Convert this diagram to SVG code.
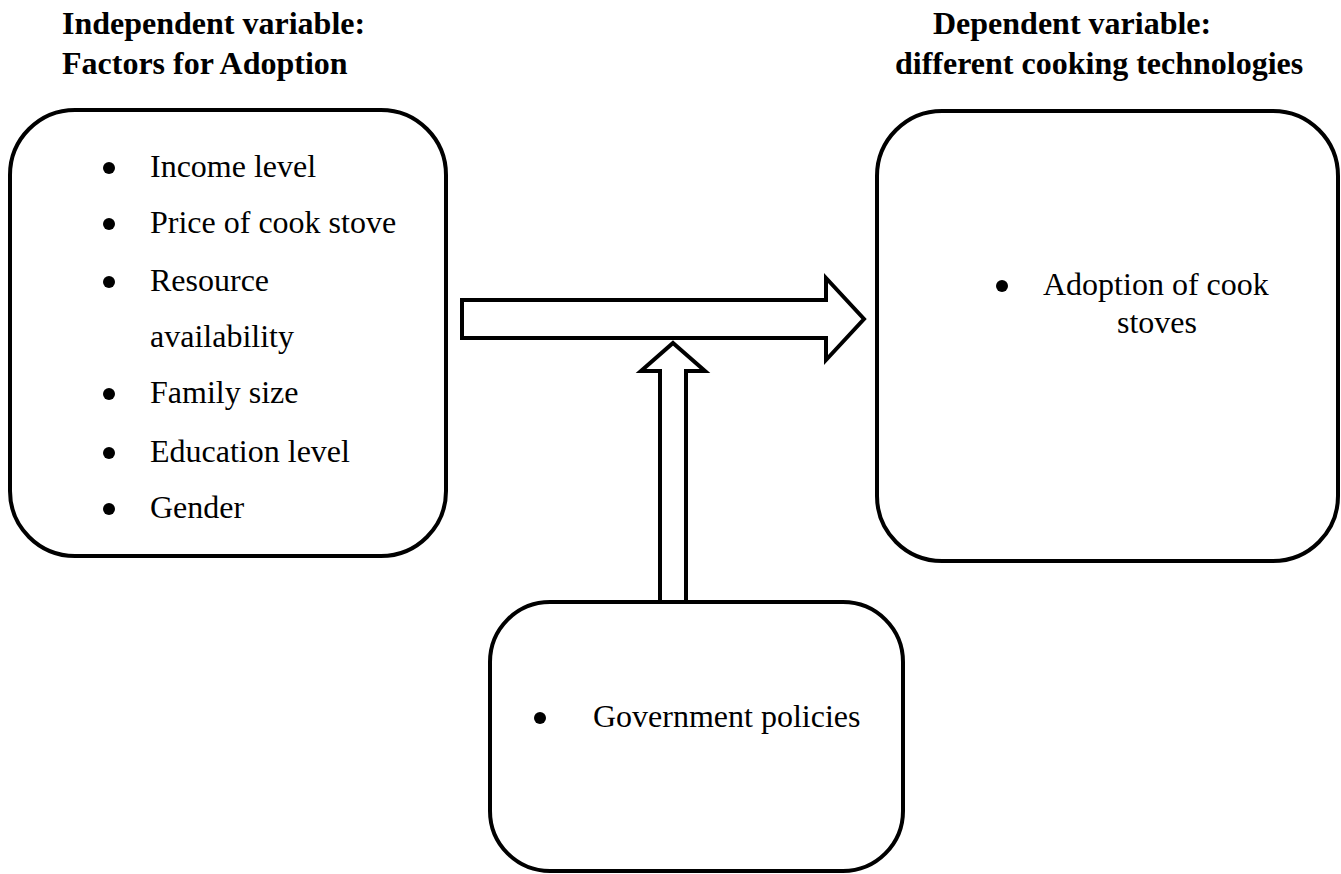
<svg xmlns="http://www.w3.org/2000/svg" width="1341" height="874" viewBox="0 0 1341 874">
<style>
.box{fill:#fff;stroke:#000;stroke-width:4}
.arrow{fill:#fff;stroke:#000;stroke-width:4;stroke-linejoin:miter}
.t{font-family:"Liberation Serif","Times New Roman",serif;font-size:32px;fill:#000}
.h{font-family:"Liberation Serif","Times New Roman",serif;font-size:32px;font-weight:bold;fill:#000}
.b{fill:#000}
</style>
<rect width="1341" height="874" fill="#fff"/>
<g id="headings">
<text class="h" x="62" y="34">Independent variable:</text>
<text class="h" x="62" y="74">Factors for Adoption</text>
<text class="h" x="933" y="34">Dependent variable:</text>
<text class="h" x="895" y="74">different cooking technologies</text>
</g>
<g id="independent">
<rect class="box" x="10" y="110" width="436" height="446" rx="65" ry="65"/>
<circle class="b" cx="109" cy="168" r="6"/><text class="t" x="150" y="177">Income level</text>
<circle class="b" cx="109" cy="224" r="6"/><text class="t" x="150" y="233">Price of cook stove</text>
<circle class="b" cx="109" cy="282" r="6"/><text class="t" x="150" y="291">Resource</text>
<text class="t" x="150" y="347">availability</text>
<circle class="b" cx="109" cy="394" r="6"/><text class="t" x="150" y="403">Family size</text>
<circle class="b" cx="109" cy="453" r="6"/><text class="t" x="150" y="462">Education level</text>
<circle class="b" cx="109" cy="509" r="6"/><text class="t" x="150" y="518">Gender</text>
</g>
<g id="dependent">
<rect class="box" x="877" y="111" width="461" height="450" rx="65" ry="65"/>
<circle class="b" cx="1002" cy="286" r="6"/><text class="t" x="1043" y="295">Adoption of cook</text>
<text class="t" x="1117" y="333">stoves</text>
</g>
<g id="government">
<rect class="box" x="490" y="602" width="413" height="269" rx="60" ry="60"/>
<circle class="b" cx="540" cy="718" r="6"/><text class="t" x="593" y="727">Government policies</text>
</g>
<g id="connectors">
<polygon class="arrow" points="462,300 826,300 826,278 864,319 826,360 826,338 462,338"/>
<polygon class="arrow" points="673,343 705,371 686,371 686,602 660,602 660,371 641,371"/>
</g>
</svg>
